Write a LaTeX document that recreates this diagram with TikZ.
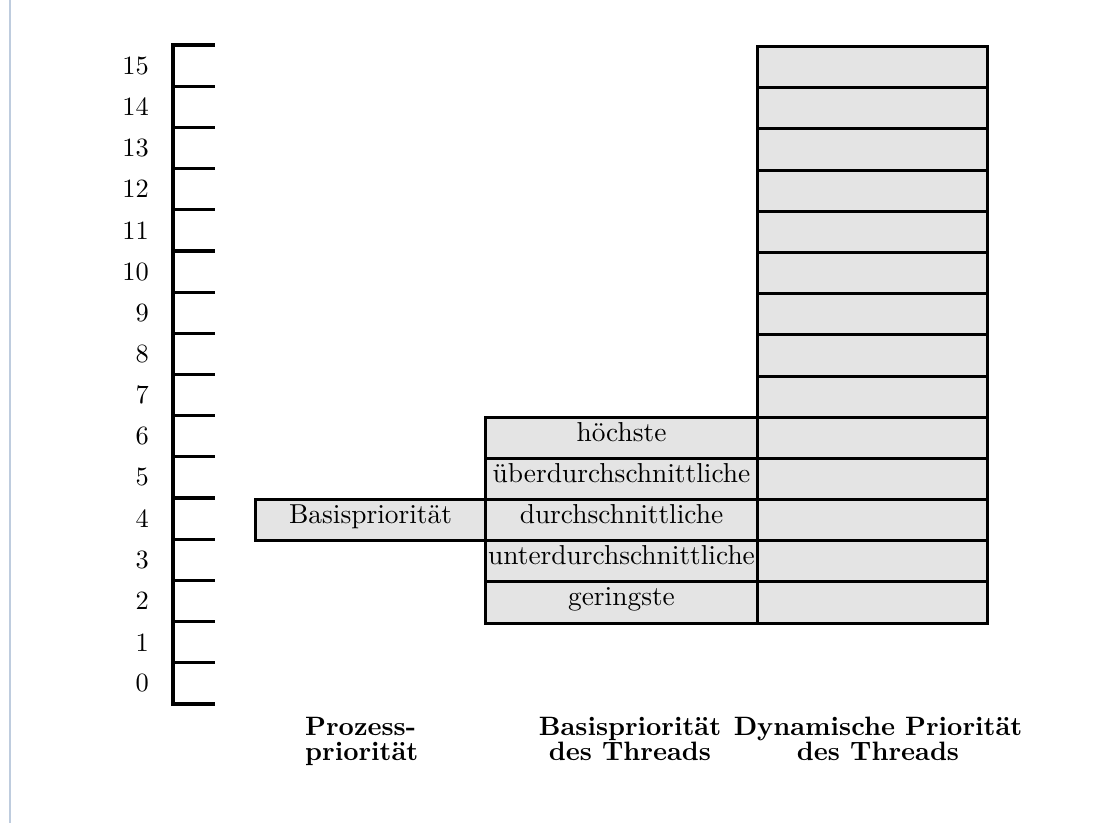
\documentclass[tikz,border=0pt]{standalone}
\usepackage{fontspec}
\setmainfont{lmroman10-regular.otf}[BoldFont=lmroman10-bold.otf]
\definecolor{cellgray}{RGB}{228,228,228}
\definecolor{edgeblue}{RGB}{190,204,222}
\tikzset{
  txt/.style={font=\fontsize{27.4}{30}\selectfont, inner sep=0pt},
  numtxt/.style={font=\fontsize{26.4}{26}\selectfont, inner sep=0pt},
  cell/.style={draw=black, fill=cellgray, line width=3pt, inner sep=0pt,
    minimum height=41.1875pt, anchor=north west, txt,
    text height=0.69em, text depth=0.02em},
  axisline/.style={line width=3.2pt, line join=miter, line cap=rect},
  caption/.style={font=\fontsize{26.6}{25}\selectfont\bfseries, inner sep=0pt, anchor=north},
}
\begin{document}
\begin{tikzpicture}[x=1pt,y=-1pt]
\useasboundingbox (0,0) rectangle (1102,823);
\fill[white] (0,0) rectangle (1102,823);
\draw[edgeblue, line width=2pt] (10,0) -- (10,823);
% axis
\draw[axisline] (213,45) -- (173,45) -- (173,704) -- (213,704);
\foreach \k in {1,...,15}{
  \pgfmathsetmacro{\yy}{45+41.1875*\k}
  \draw[axisline] (173,\yy) -- (213,\yy);
}
% numbers
\foreach \n in {0,...,15}{
  \pgfmathsetmacro{\yy}{45+41.1875*(15.5-\n)}
  \node[numtxt, anchor=east] (num\n) at (149,\yy) {\n};
}
% dynamic priority column
\foreach \k in {0,...,13}{
  \pgfmathsetmacro{\yy}{45+41.1875*\k}
  \node[cell, minimum width=230pt] (dyn\k) at (756,\yy) {};
}
% thread base priority
\node[cell, minimum width=272pt] (t6) at (484,415.69) {höchste};
\node[cell, minimum width=272pt] (t5) at (484,456.88) {überdurchschnittliche};
\node[cell, minimum width=272pt] (t4) at (484,498.06) {durchschnittliche};
\node[cell, minimum width=272pt] (t3) at (484,539.25) {unterdurchschnittliche};
\node[cell, minimum width=272pt] (t2) at (484,580.44) {geringste};
% process base priority
\node[cell, minimum width=230pt] (basis) at (254,498.06) {Basispriorität};
% captions
\node[caption, align=left, anchor=north west] (cap1) at (305,717) {Prozess-\\priorität};
\node[caption, align=center] (cap2) at (630,717) {Basispriorität\\des Threads};
\node[caption, align=center] (cap3) at (878,717) {Dynamische Priorität\\des Threads};
\end{tikzpicture}
\end{document}
